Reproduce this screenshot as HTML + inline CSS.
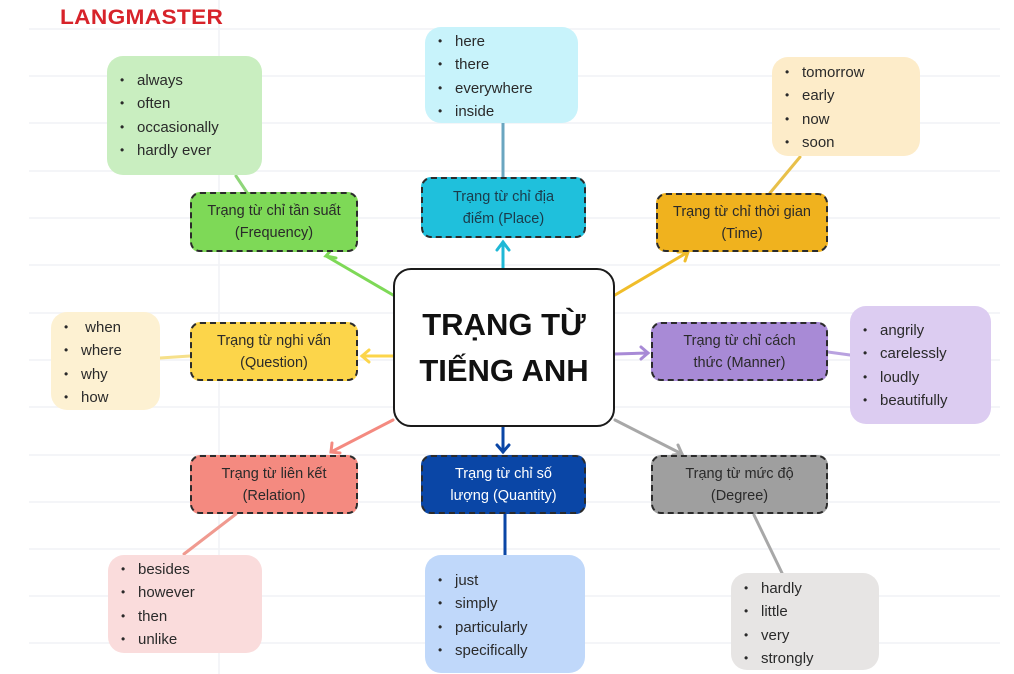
<!DOCTYPE html>
<html><head><meta charset="utf-8"><style>
*{margin:0;padding:0;box-sizing:border-box}
body{width:1014px;height:674px;background:#fff;position:relative;overflow:hidden;font-family:"Liberation Sans",sans-serif;color:#2a2a2a}
.b{position:absolute;border-radius:16px;font-size:15px;line-height:22.3px}
.b ul{list-style:none}
.b li:before{content:"•";display:inline-block;width:17px;font-size:12px;vertical-align:1px}
.l{position:absolute;border:2.5px dashed #2b2b2b;border-radius:10px;font-size:14.5px;line-height:22px;text-align:center;display:flex;align-items:center;justify-content:center;color:#2a2a2a}
</style></head><body>
<svg width="1014" height="674" style="position:absolute;left:0;top:0">
<g stroke="#f1f2f5" stroke-width="1.5">
<line x1="29" y1="29" x2="1000" y2="29"/><line x1="29" y1="76" x2="1000" y2="76"/><line x1="29" y1="123" x2="1000" y2="123"/><line x1="29" y1="171" x2="1000" y2="171"/><line x1="29" y1="218" x2="1000" y2="218"/><line x1="29" y1="265" x2="1000" y2="265"/><line x1="29" y1="313" x2="1000" y2="313"/><line x1="29" y1="360" x2="1000" y2="360"/><line x1="29" y1="407" x2="1000" y2="407"/><line x1="29" y1="455" x2="1000" y2="455"/><line x1="29" y1="502" x2="1000" y2="502"/><line x1="29" y1="549" x2="1000" y2="549"/><line x1="29" y1="596" x2="1000" y2="596"/><line x1="29" y1="643" x2="1000" y2="643"/>
<line x1="219" y1="0" x2="219" y2="674"/>
</g>
<g stroke-width="3" fill="none" stroke-linecap="round">
<line x1="236" y1="176" x2="248" y2="194" stroke="#8fd67a"/>
<line x1="393" y1="295" x2="326" y2="256" stroke="#7ed957"/><polyline points="332,249 326,256 336,258" stroke="#7ed957"/>
<line x1="503" y1="123" x2="503" y2="177" stroke="#6aa6c0"/>
<line x1="503" y1="268" x2="503" y2="242" stroke="#1fb8d6"/><polyline points="497,250 503,242 509,250" stroke="#1fb8d6"/>
<line x1="800" y1="157" x2="770" y2="193" stroke="#e8c04a"/>
<line x1="615" y1="295" x2="688" y2="252" stroke="#f0bd2a"/><polyline points="678,252 688,252 685,261" stroke="#f0bd2a"/>
<line x1="160" y1="358" x2="190" y2="356" stroke="#f6e08a"/>
<line x1="393" y1="356" x2="362" y2="356" stroke="#fcd54a"/><polyline points="369,350 362,356 369,362" stroke="#fcd54a"/>
<line x1="615" y1="354" x2="648" y2="353" stroke="#a88ad6"/><polyline points="641,347 648,353 641,359" stroke="#a88ad6"/>
<line x1="828" y1="352" x2="850" y2="355" stroke="#b9a2e0"/>
<line x1="393" y1="420" x2="331" y2="452" stroke="#f48a80"/><polyline points="332,443 331,452 340,453" stroke="#f48a80"/>
<line x1="236" y1="514" x2="184" y2="554" stroke="#f09a90"/>
<line x1="503" y1="427" x2="503" y2="452" stroke="#0a46a6"/><polyline points="497,445 503,452 509,445" stroke="#0a46a6"/>
<line x1="505" y1="514" x2="505" y2="555" stroke="#0a46a6"/>
<line x1="615" y1="420" x2="682" y2="454" stroke="#a8a8a8"/><polyline points="678,445 682,454 673,455" stroke="#a8a8a8"/>
<line x1="754" y1="515" x2="782" y2="573" stroke="#a8a8a8"/>
</g>
</svg>
<div style="position:absolute;left:60px;top:6px;font-size:21px;line-height:24px;font-weight:900;color:#d7232a;letter-spacing:0.3px;transform:scaleX(1.08);transform-origin:left">LANGMASTER</div>

<div class="b" style="left:107px;top:56px;width:155px;height:119px;background:#c9eec0;padding:13px 0 0 13px"><ul><li>always</li><li>often</li><li>occasionally</li><li>hardly ever</li></ul></div>
<div class="b" style="left:425px;top:27px;width:153px;height:96px;background:#c8f3fb;padding:3px 0 0 13px"><ul><li>here</li><li>there</li><li>everywhere</li><li>inside</li></ul></div>
<div class="b" style="left:772px;top:57px;width:148px;height:99px;background:#fdecc9;padding:4px 0 0 13px"><ul><li>tomorrow</li><li>early</li><li>now</li><li>soon</li></ul></div>
<div class="b" style="left:51px;top:312px;width:109px;height:98px;background:#fdf1d2;padding:4px 0 0 13px"><ul><li>&nbsp;when</li><li>where</li><li>why</li><li>how</li></ul></div>
<div class="b" style="left:850px;top:306px;width:141px;height:118px;background:#dcccf1;padding:13px 0 0 13px"><ul><li>angrily</li><li>carelessly</li><li>loudly</li><li>beautifully</li></ul></div>
<div class="b" style="left:108px;top:555px;width:154px;height:98px;background:#fadcdc;padding:3px 0 0 13px"><ul><li>besides</li><li>however</li><li>then</li><li>unlike</li></ul></div>
<div class="b" style="left:425px;top:555px;width:160px;height:118px;background:#c0d8fa;padding:14px 0 0 13px"><ul><li>just</li><li>simply</li><li>particularly</li><li>specifically</li></ul></div>
<div class="b" style="left:731px;top:573px;width:148px;height:97px;background:#e7e5e4;padding:4px 0 0 13px"><ul><li>hardly</li><li>little</li><li>very</li><li>strongly</li></ul></div>

<div class="l" style="left:190px;top:192px;width:168px;height:60px;background:#7ed957">Trạng từ chỉ tần suất<br>(Frequency)</div>
<div class="l" style="left:421px;top:177px;width:165px;height:61px;background:#1fc0dc;color:#1b3b4b">Trạng từ chỉ địa<br>điểm (Place)</div>
<div class="l" style="left:656px;top:193px;width:172px;height:59px;background:#f0b21e">Trạng từ chỉ thời gian<br>(Time)</div>
<div class="l" style="left:190px;top:322px;width:168px;height:59px;background:#fcd54a">Trạng từ nghi vấn<br>(Question)</div>
<div class="l" style="left:651px;top:322px;width:177px;height:59px;background:#a88ad6">Trạng từ chỉ cách<br>thức (Manner)</div>
<div class="l" style="left:190px;top:455px;width:168px;height:59px;background:#f48a80">Trạng từ liên kết<br>(Relation)</div>
<div class="l" style="left:421px;top:455px;width:165px;height:59px;background:#0a46a6;color:#fff">Trạng từ chỉ số<br>lượng (Quantity)</div>
<div class="l" style="left:651px;top:455px;width:177px;height:59px;background:#9f9f9f">Trạng từ mức độ<br>(Degree)</div>

<div style="position:absolute;left:393px;top:268px;width:222px;height:159px;background:#fff;border:2.5px solid #1a1a1a;border-radius:18px;display:flex;align-items:center;justify-content:center;text-align:center;font-size:31px;line-height:46px;font-weight:bold;color:#111">TRẠNG TỪ<br>TIẾNG ANH</div>
</body></html>
